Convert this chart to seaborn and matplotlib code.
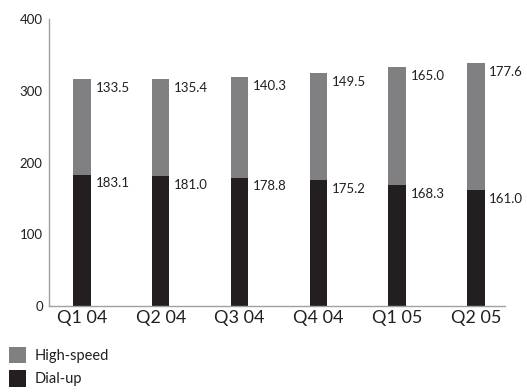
import matplotlib
matplotlib.use("Agg")
import matplotlib.pyplot as plt
from matplotlib.patches import Patch
import seaborn as sns
import pandas as pd

quarters = ["Q1 04", "Q2 04", "Q3 04", "Q4 04", "Q1 05", "Q2 05"]
dial_up = [183.1, 181.0, 178.8, 175.2, 168.3, 161.0]
high_speed = [133.5, 135.4, 140.3, 149.5, 165.0, 177.6]
y_ticks = [0, 100, 200, 300, 400]

GRAY = "#808083"
BLACK = "#231f20"
TEXT = "#231f20"

sns.set_theme(style="white")
plt.rcParams["font.family"] = ["Lato", "DejaVu Sans"]

df = pd.DataFrame({"quarter": quarters, "dial": dial_up, "high": high_speed})

fig = plt.figure(figsize=(5.27, 3.92), dpi=100)
ax = fig.add_axes([49 / 527, 86 / 392, (505 - 49) / 527, 287 / 392])

width = 0.22
sns.barplot(data=df, x="quarter", y="dial", color=BLACK, width=width,
            saturation=1, ax=ax, linewidth=0)
sns.barplot(data=df, x="quarter", y="high", color=GRAY, width=width,
            saturation=1, ax=ax, linewidth=0, bottom=df["dial"].to_numpy())

ax.set_xlim(-0.42, 5.37)
ax.set_ylim(0, 400)
ax.set_yticks(y_ticks)
ax.set_xlabel("")
ax.set_ylabel("")
ax.tick_params(axis="y", length=0, labelsize=9.5, colors=TEXT, pad=4.5)
ax.tick_params(axis="x", length=0, labelsize=13, colors=TEXT, pad=3)

for side in ["top", "right"]:
    ax.spines[side].set_visible(False)
for side in ["left", "bottom"]:
    ax.spines[side].set_color("#a0a0a0")
    ax.spines[side].set_linewidth(1.0)

# value labels beside the top of each segment
for i, (d, h) in enumerate(zip(dial_up, high_speed)):
    xt = i + width / 2 + 0.06
    ax.annotate(f"{d:.1f}", (xt, d), xytext=(0, -2), textcoords="offset points",
                ha="left", va="top", fontsize=9.5, color=TEXT)
    ax.annotate(f"{h:.1f}", (xt, d + h), xytext=(0, -2), textcoords="offset points",
                ha="left", va="top", fontsize=9.5, color=TEXT)

handles = [Patch(facecolor=GRAY, edgecolor="none", label="High-speed"),
           Patch(facecolor=BLACK, edgecolor="none", label="Dial-up")]
leg = fig.legend(handles=handles, loc="upper left",
                 bbox_to_anchor=(9 / 527, 1 - 347 / 392),
                 bbox_transform=fig.transFigure, frameon=False, fontsize=10.5,
                 handlelength=1.17, handleheight=1.33, handletextpad=0.6,
                 labelspacing=0.5, borderpad=0, borderaxespad=0)
for t in leg.get_texts():
    t.set_color(TEXT)

fig.savefig("out.png", dpi=100)
